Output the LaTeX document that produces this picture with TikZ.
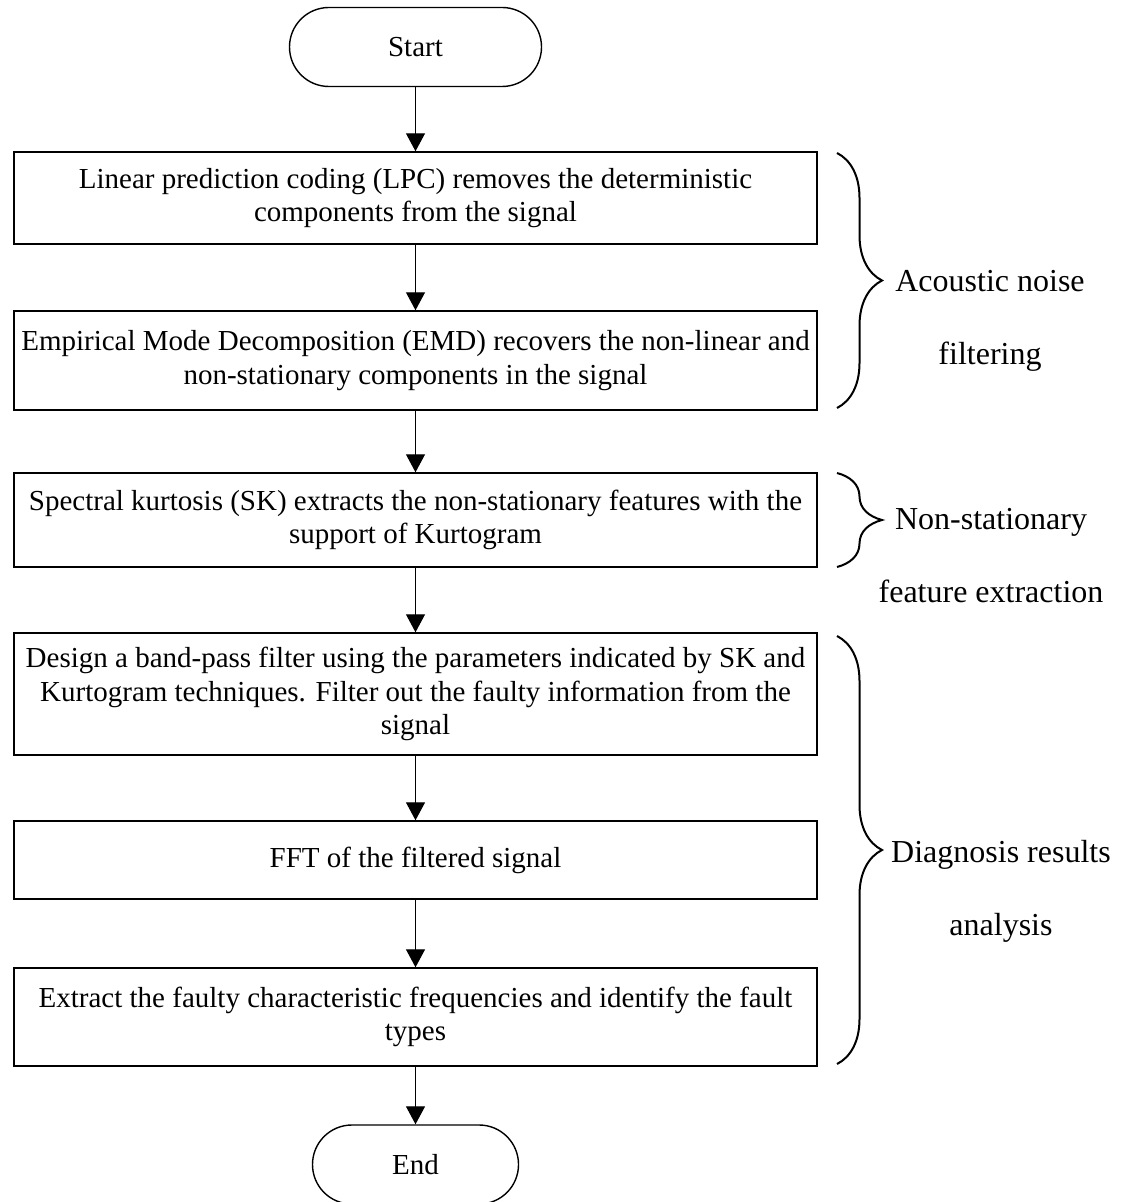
\documentclass[tikz,border=0pt]{standalone}
\usepackage{fontspec}
\setmainfont{Liberation Serif}
\usetikzlibrary{arrows.meta}
\usetikzlibrary{decorations.pathreplacing}
\tikzset{
  procbox/.style={draw, line width=0.7pt, inner sep=0pt, minimum width=401.5pt, align=center, font=\fontsize{14.5}{16.75}\selectfont},
  termbox/.style={draw, line width=0.7pt, rounded corners=19.7pt, minimum height=39.5pt, inner sep=0pt, font=\fontsize{14.5}{16.75}\selectfont},
  flowarr/.style={-{Triangle[width=9.5pt,length=9pt]}, line width=0.6pt},
  grpbrace/.style={decorate, decoration={brace, amplitude=22.5pt}, line width=1pt},
  grplabel/.style={anchor=north, align=center, inner sep=0pt, font=\fontsize{16}{36.5}\selectfont}
}

\begin{document}
\begin{tikzpicture}[x=0.5pt, y=-0.5pt]
	\useasboundingbox (0,0) rectangle (1130,1202);
	% steps of the method
	\node[termbox, minimum width=126pt] (start) at (415.5,47) {Start};
	\node[procbox, minimum height=46pt] (lpc) at (415.5,198) {Linear prediction coding (LPC) removes the deterministic\\components from the signal};
	\node[procbox, minimum height=49.5pt] (emd) at (415.5,360.5) {Empirical Mode Decomposition (EMD) recovers the non-linear and\\non-stationary components in the signal};
	\node[procbox, minimum height=47pt] (sk) at (415.5,520) {Spectral kurtosis (SK) extracts the non-stationary features with the\\support of Kurtogram};
	\node[procbox, minimum height=61pt] (bpf) at (415.5,694) {Design a band-pass filter using the parameters indicated by SK and\\Kurtogram techniques. Filter out the faulty information from the\\signal};
	\node[procbox, minimum height=39pt] (fft) at (415.5,860) {FFT of the filtered signal};
	\node[procbox, minimum height=49pt] (freq) at (415.5,1017) {Extract the faulty characteristic frequencies and identify the fault\\types};
	\node[termbox, minimum width=103pt] (end) at (415.5,1164.5) {End};
	% arrows between the steps
	\foreach \src/\dst in {start/lpc, lpc/emd, emd/sk, sk/bpf, bpf/fft, fft/freq, freq/end}
		\draw[flowarr] (\src) -- (\dst);
	% braces with the group names
	\draw[grpbrace] (837,153) -- (837,408);
	\node[grplabel] (noise) at (990,270) {Acoustic noise\\filtering};
	\draw[grpbrace] (837,473) -- (837,567);
	\node[grplabel] (feature) at (991,508) {Non-stationary\\feature extraction};
	\draw[grpbrace] (837,636) -- (837,1064);
	\node[grplabel] (diagnosis) at (1001,840) {Diagnosis results\\analysis};
\end{tikzpicture}
\end{document}
